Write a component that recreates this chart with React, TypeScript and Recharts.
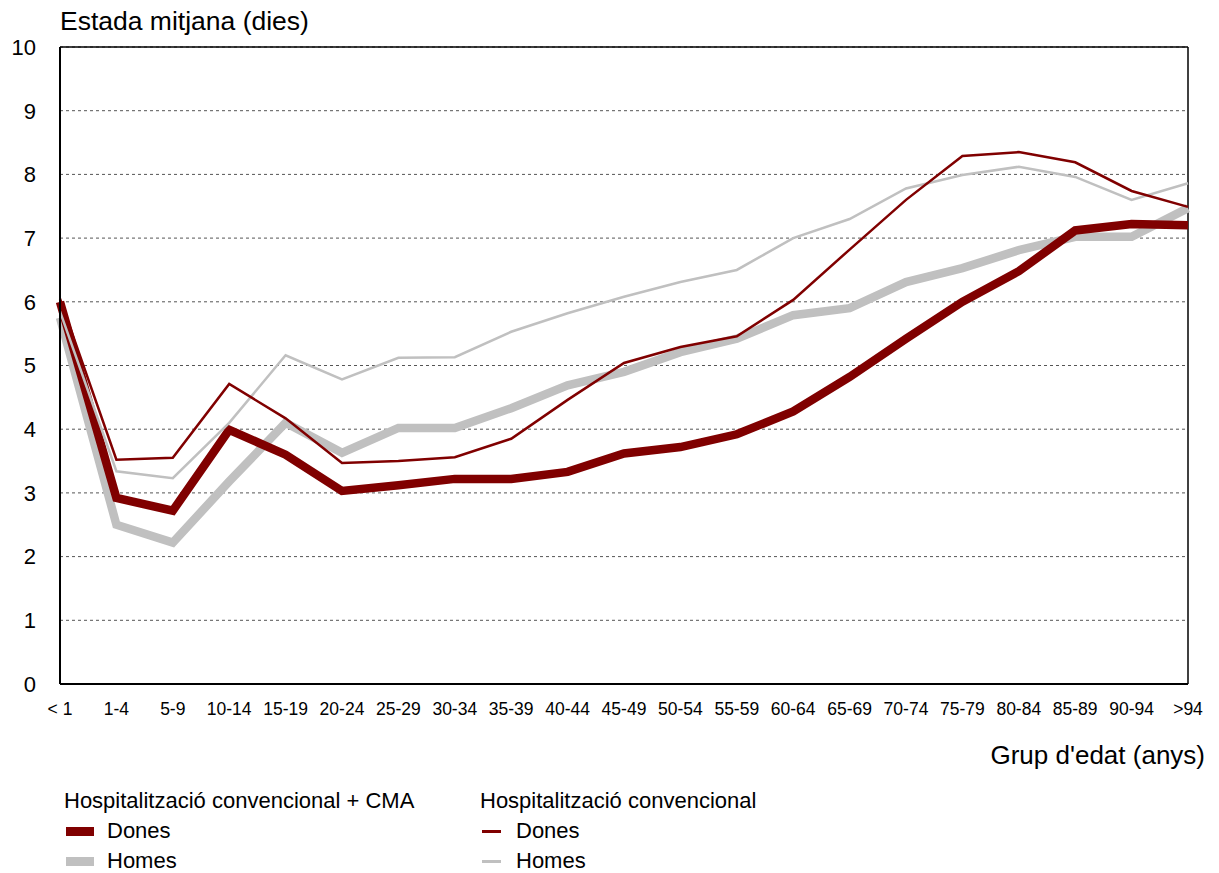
import { CartesianGrid, Line, LineChart, ReferenceLine, XAxis, YAxis } from "recharts";

const ageGroups = [
  "< 1", "1-4", "5-9", "10-14", "15-19", "20-24", "25-29", "30-34", "35-39", "40-44",
  "45-49", "50-54", "55-59", "60-64", "65-69", "70-74", "75-79", "80-84", "85-89", "90-94", ">94",
];

// Hospitalització convencional + CMA
const donesCma = [6.0, 2.92, 2.72, 3.99, 3.6, 3.03, 3.12, 3.22, 3.22, 3.33, 3.62, 3.72, 3.92, 4.28, 4.82, 5.42, 6.0, 6.48, 7.12, 7.22, 7.2];
const homesCma = [5.75, 2.5, 2.22, 3.18, 4.1, 3.63, 4.02, 4.02, 4.33, 4.69, 4.9, 5.21, 5.42, 5.79, 5.9, 6.31, 6.53, 6.81, 7.02, 7.02, 7.47];

// Hospitalització convencional
const donesConv = [6.05, 3.52, 3.55, 4.71, 4.17, 3.47, 3.5, 3.56, 3.85, 4.46, 5.04, 5.29, 5.46, 6.03, 6.82, 7.6, 8.29, 8.35, 8.19, 7.74, 7.49];
const homesConv = [5.85, 3.34, 3.23, 4.1, 5.16, 4.78, 5.12, 5.13, 5.53, 5.82, 6.08, 6.31, 6.5, 7.0, 7.3, 7.78, 7.99, 8.12, 7.96, 7.6, 7.86];

const yTicks = [0, 1, 2, 3, 4, 5, 6, 7, 8, 9, 10];

const data = ageGroups.map((g, i) => ({
  group: g,
  donesCma: donesCma[i],
  homesCma: homesCma[i],
  donesConv: donesConv[i],
  homesConv: homesConv[i],
}));

const RED = "#800000";
const GREY = "#c0c0c0";
const font = "'Liberation Sans', Arial, sans-serif";

export default function App() {
  return (
    <div style={{ position: "relative", width: 1219, height: 873, fontFamily: font, color: "#000" }}>
      <style>{"body{margin:0}"}</style>
      <LineChart
        width={1219}
        height={873}
        data={data}
        margin={{ top: 47, right: 31, bottom: 149, left: 0 }}
      >
        <CartesianGrid vertical={false} stroke="#555" strokeDasharray="3 3" />
        <XAxis
          dataKey="group"
          interval={0}
          padding={{ left: 0, right: 0 }}
          height={40}
          tickLine={false}
          tickSize={0}
          tickMargin={19}
          axisLine={{ stroke: "#000", strokeWidth: 2 }}
          tick={{ fill: "#000", fontSize: 17.5, fontFamily: font }}
        />
        <YAxis
          domain={[0, 10]}
          ticks={yTicks}
          width={60}
          tickLine={false}
          tickSize={0}
          tickMargin={24}
          axisLine={{ stroke: "#000", strokeWidth: 2 }}
          tick={{ fill: "#000", fontSize: 22, fontFamily: font }}
        />
        <ReferenceLine y={10} stroke="#000" strokeWidth={1.5} />
        <ReferenceLine x=">94" stroke="#000" strokeWidth={1.5} />
        <Line dataKey="homesCma" stroke={GREY} strokeWidth={8.5} dot={false} isAnimationActive={false} />
        <Line dataKey="donesCma" stroke={RED} strokeWidth={8.5} dot={false} isAnimationActive={false} />
        <Line dataKey="homesConv" stroke={GREY} strokeWidth={2.5} dot={false} isAnimationActive={false} />
        <Line dataKey="donesConv" stroke={RED} strokeWidth={2.5} dot={false} isAnimationActive={false} />
      </LineChart>

      <div style={{ position: "absolute", left: 60, top: 6, fontSize: 26.5, lineHeight: "30px" }}>
        Estada mitjana (dies)
      </div>
      <div style={{ position: "absolute", right: 14, top: 740, fontSize: 26, lineHeight: "30px" }}>
        Grup d'edat (anys)
      </div>

      {[
        { left: 64, title: "Hospitalització convencional + CMA", h: 9, w: 28, items: [["Dones", RED], ["Homes", GREY]] },
        { left: 480, title: "Hospitalització convencional", h: 3, w: 19, items: [["Dones", RED], ["Homes", GREY]] },
      ].map((col) => (
        <div key={col.title} style={{ position: "absolute", left: col.left, top: 786, fontSize: 22, lineHeight: "30px" }}>
          <div>{col.title}</div>
          {col.items.map(([name, color]) => (
            <div key={name} style={{ display: "flex", alignItems: "center" }}>
              <span
                style={{
                  display: "inline-block",
                  width: col.w,
                  height: col.h,
                  backgroundColor: color,
                  marginLeft: 2,
                  marginRight: col.left === 64 ? 13 : 15,
                }}
              />
              {name}
            </div>
          ))}
        </div>
      ))}
    </div>
  );
}
